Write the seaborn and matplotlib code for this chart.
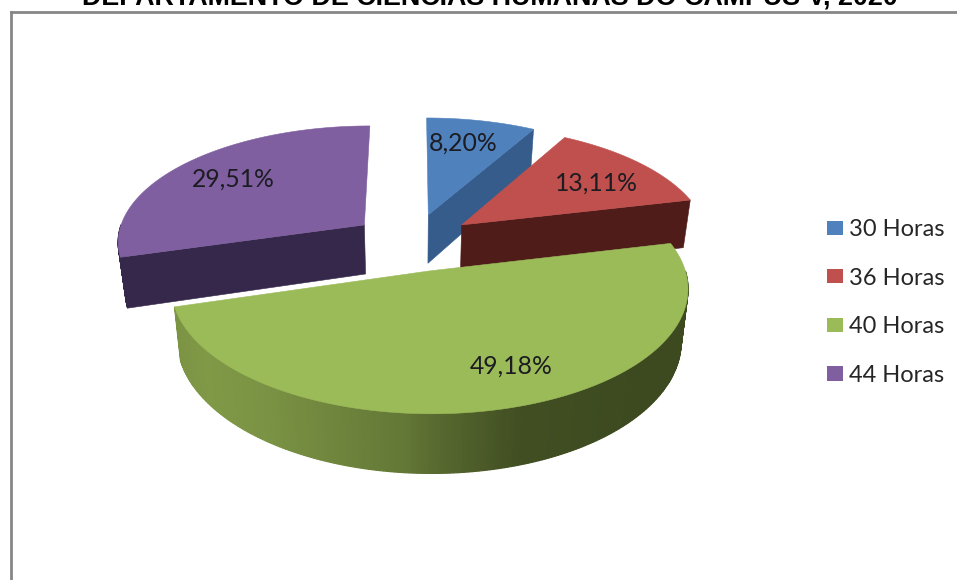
import numpy as np
import matplotlib
matplotlib.use("Agg")
import matplotlib.pyplot as plt
from matplotlib.colors import to_rgb
from matplotlib.patches import Patch
import seaborn as sns

TITLE = "DEPARTAMENTO DE CIÊNCIAS HUMANAS DO CAMPUS V, 2020"
categories = ["30 Horas", "36 Horas", "40 Horas", "44 Horas"]
shares = [8.20, 13.11, 49.18, 29.51]
top_colors = ["#4f81bd", "#c0504d", "#9bbb59", "#7f5f9f"]
wall_colors = ["#365c8c", "#4f1c1a", "#55692f", "#35284a"]

# Projection of the tilted, exploded disc onto the page
CX, CY = 413.0, 242.0
SCALE_X, SCALE_Y = 248.0, 116.0
PERSPECTIVE = 0.13
THICKNESS = 50.0
SHRINK = 0.025
EXPLODE = 0.25


def project(u, v, z=0.0):
    """u: right, v: away from the viewer, z: 0 on the top face, 1 on the bottom."""
    w = 1.0 + PERSPECTIVE * v
    s = 1.0 - SHRINK * z
    return CX + SCALE_X * s * u / w, CY - SCALE_Y * v / w + THICKNESS * z / w


def shade(hex_a, hex_b, t):
    a, b = np.array(to_rgb(hex_a)), np.array(to_rgb(hex_b))
    return tuple(a + (b - a) * t)


def wall(ax_, pts_u, pts_v, color, z, lw=0.4):
    x0, y0 = project(pts_u, pts_v, 0.0)
    x1, y1 = project(pts_u, pts_v, 1.0)
    ax_.fill(np.r_[x0, x1[::-1]], np.r_[y0, y1[::-1]], color=color, lw=lw, zorder=z)


sns.set_theme(style="white")
plt.rcParams["font.family"] = ["Lato", "DejaVu Sans"]

fig = plt.figure(figsize=(9.57, 5.80), dpi=100, facecolor="white")
ax = fig.add_axes([11 / 957, 0, 946 / 957, 1 - 12 / 580])
ax.set_xlim(11, 957)
ax.set_ylim(580, 12)
ax.set_xticks([])
ax.set_yticks([])
sns.despine(ax=ax, top=False, right=True, bottom=True)
for side in ("left", "top"):
    ax.spines[side].set_color("#868686")
    ax.spines[side].set_linewidth(2.0)

edges = np.concatenate([[0.0], np.cumsum(shares)]) / sum(shares) * 2 * np.pi
order = [3, 0, 1, 2]

for rank, i in enumerate(order):
    a0, a1 = edges[i], edges[i + 1]
    mid = (a0 + a1) / 2
    ou, ov = EXPLODE * np.sin(mid), EXPLODE * np.cos(mid)
    th = np.linspace(a0, a1, 241)
    ru, rv = ou + np.sin(th), ov + np.cos(th)
    base = rank * 10 + 1

    # Only the faces turned towards the viewer get drawn
    if np.sin(a0) < -1e-6:
        wall(ax, np.array([ou, ou + np.sin(a0)]), np.array([ov, ov + np.cos(a0)]),
             wall_colors[i], base + 2)
    if np.sin(a1) > 1e-6:
        wall(ax, np.array([ou, ou + np.sin(a1)]), np.array([ov, ov + np.cos(a1)]),
             wall_colors[i], base + 2)

    # Outer rim, in strips so that the front slice can carry its gradient
    for j in range(len(th) - 1):
        if np.cos(th[j]) > 0 and np.cos(th[j + 1]) > 0:
            continue
        if i == 2:
            xm = project(ru[j], rv[j])[0]
            col_t = np.interp(xm, [176, 205, 270, 403, 450, 520, 640, 690],
                              [0.20, 0.14, 0.22, 0.50, 0.70, 0.95, 1.0, 1.0])
            col = shade("#8ba64d", "#3d4a20", col_t)
        else:
            col = wall_colors[i]
        wall(ax, ru[j:j + 2], rv[j:j + 2], col, base + 1, lw=0.9)

    # Top face
    x, y = project(np.r_[ou, ru], np.r_[ov, rv])
    ax.fill(x, y, color=top_colors[i], lw=0.4, zorder=base + 4)

# Percentages on the slices
label_pos = [(463, 143), (596, 183), (511, 366), (233, 179)]
for share, (lx, ly) in zip(shares, label_pos):
    ax.text(lx, ly, f"{share:.2f}%".replace(".", ","), ha="center", va="center",
            fontsize=17.8, color="#1c1c22", zorder=100)

handles = [Patch(facecolor=c, edgecolor="none") for c in top_colors]
ax.legend(handles, categories, loc="upper left", bbox_to_anchor=(827, 219),
          bbox_transform=ax.transData, frameon=False, fontsize=17,
          borderaxespad=0, borderpad=0,
          handlelength=0.68, handleheight=0.55, handletextpad=0.25,
          labelspacing=1.17, labelcolor="#262626")

fig.text(490 / 957, 1 - 4.8 / 580, TITLE, ha="center", va="baseline",
         fontsize=19.4, fontweight="bold", family="Liberation Sans", color="black")

fig.savefig("out.png", dpi=100)
